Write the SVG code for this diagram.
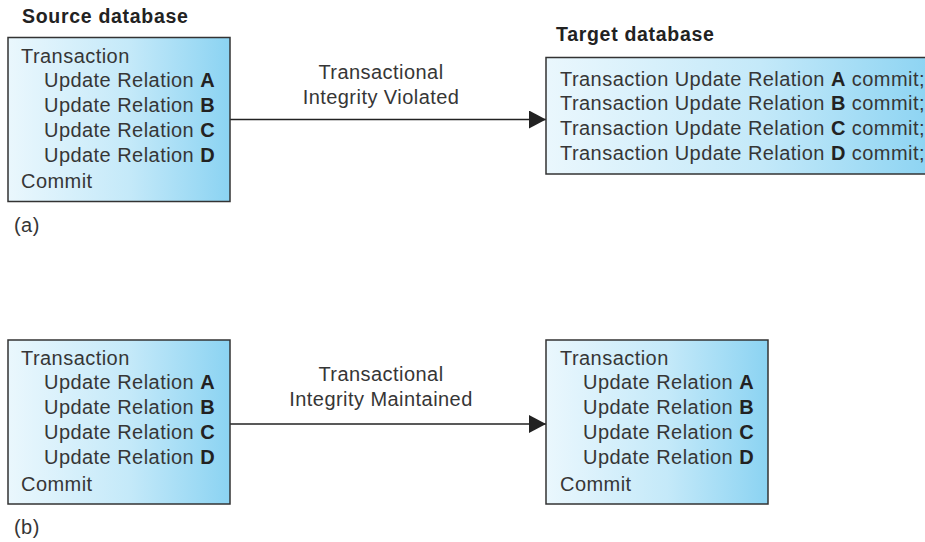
<svg xmlns="http://www.w3.org/2000/svg" width="925" height="542" viewBox="0 0 925 542">
<style>
text{font-family:"Liberation Sans",Arial,Helvetica,sans-serif;fill:#363636;font-size:20px;letter-spacing:0.45px}
.title{font-weight:bold;font-size:19.5px;letter-spacing:0.7px;fill:#222}
.b{font-weight:bold;fill:#222}
.box{fill:url(#g);stroke:#333;stroke-width:1.5}
.conn{stroke:#222;stroke-width:1.5;fill:none}
.lbl{text-anchor:middle}
</style>
<defs>
<linearGradient id="g" x1="0" y1="0" x2="1" y2="0">
<stop offset="0" stop-color="#eaf7fd"/>
<stop offset="0.55" stop-color="#c4e9f9"/>
<stop offset="1" stop-color="#8bd3f2"/>
</linearGradient>
<marker id="ah" markerWidth="17" markerHeight="18" refX="17" refY="9" orient="auto" markerUnits="userSpaceOnUse">
<path d="M0,0 L17,9 L0,18 Z" fill="#222"/>
</marker>
</defs>

<g id="connectors">
<line class="conn" x1="230" y1="119.5" x2="546" y2="119.5" marker-end="url(#ah)"/>
<line class="conn" x1="230" y1="424" x2="546" y2="424" marker-end="url(#ah)"/>
<text class="lbl" x="381" y="78.5">Transactional</text>
<text class="lbl" x="381" y="103.5">Integrity Violated</text>
<text class="lbl" x="381" y="380.5">Transactional</text>
<text class="lbl" x="381" y="405.5">Integrity Maintained</text>
</g>

<g id="source-a">
<text class="title" x="22" y="22.5">Source database</text>
<rect class="box" x="8" y="37.5" width="222" height="164"/>
<text x="21" y="62.8">Transaction</text>
<text x="44" y="86.8">Update Relation <tspan class="b">A</tspan></text>
<text x="44" y="111.8">Update Relation <tspan class="b">B</tspan></text>
<text x="44" y="136.8">Update Relation <tspan class="b">C</tspan></text>
<text x="44" y="161.8">Update Relation <tspan class="b">D</tspan></text>
<text x="21" y="188.3">Commit</text>
<text x="14" y="231.5">(a)</text>
</g>

<g id="target-a">
<text class="title" x="556" y="40.5">Target database</text>
<rect class="box" x="546" y="57.5" width="390" height="116.5"/>
<text x="560" y="85.7">Transaction Update Relation <tspan class="b">A</tspan> commit;</text>
<text x="560" y="110.4">Transaction Update Relation <tspan class="b">B</tspan> commit;</text>
<text x="560" y="135">Transaction Update Relation <tspan class="b">C</tspan> commit;</text>
<text x="560" y="159.5">Transaction Update Relation <tspan class="b">D</tspan> commit;</text>
</g>

<g id="source-b">
<rect class="box" x="8" y="340" width="222" height="164"/>
<text x="21" y="365.2">Transaction</text>
<text x="44" y="389.3">Update Relation <tspan class="b">A</tspan></text>
<text x="44" y="414.3">Update Relation <tspan class="b">B</tspan></text>
<text x="44" y="439.3">Update Relation <tspan class="b">C</tspan></text>
<text x="44" y="464.3">Update Relation <tspan class="b">D</tspan></text>
<text x="21" y="490.8">Commit</text>
<text x="14" y="533.5">(b)</text>
</g>

<g id="target-b">
<rect class="box" x="546" y="340" width="222" height="164"/>
<text x="560" y="365.2">Transaction</text>
<text x="583" y="389.3">Update Relation <tspan class="b">A</tspan></text>
<text x="583" y="414.3">Update Relation <tspan class="b">B</tspan></text>
<text x="583" y="439.3">Update Relation <tspan class="b">C</tspan></text>
<text x="583" y="464.3">Update Relation <tspan class="b">D</tspan></text>
<text x="560" y="490.8">Commit</text>
</g>
</svg>
